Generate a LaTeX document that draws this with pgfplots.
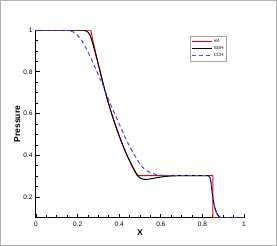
\documentclass[border=0pt]{standalone}
\usepackage{pgfplots}
\pgfplotsset{compat=1.18}
\usepackage{fontspec}
\setmainfont{Liberation Sans}
\definecolor{cchblue}{RGB}{70,70,255}
\begin{document}
\begin{tikzpicture}
\draw[gray!60, line width=1pt] (-35.5pt,-27.5pt) rectangle (240.5pt,217.5pt);
\begin{axis}[
  at={(0pt,0pt)}, anchor=origin,
  scale only axis, width=208pt, height=188pt,
  xmin=0, xmax=1, ymin=0.1, ymax=1,
  axis lines=left, axis line style={-, line width=1pt},
  tick align=inside,
  xtick={0,0.2,0.4,0.6,0.8,1}, ytick={0.2,0.4,0.6,0.8,1},
  minor x tick num=3, minor y tick num=3,
  major tick length=4pt, minor tick length=2.5pt,
  every tick/.style={black, line width=0.6pt},
  tick label style={font=\fontsize{6.5}{7}\selectfont},
  /pgf/number format/assume math mode=true,
  xlabel={\textbf{X}}, ylabel={\textbf{Pressure}},
  label style={font=\fontsize{8.5}{9}\selectfont},
  xlabel style={at={(axis description cs:0.5,-0.08)}, anchor=center},
  ylabel style={at={(axis description cs:-0.09,0.5)}, anchor=center},
  legend style={at={(axis description cs:0.74,0.97)}, anchor=north west,
    draw=gray!70, line width=0.4pt, font=\fontsize{4.5}{5}\selectfont,
    inner sep=1pt, row sep=-1.5pt, legend cell align=left},
  legend image post style={line width=0.8pt},
  legend image code/.code={\draw[#1] (0pt,0pt) -- (20pt,0pt);},
]
\addplot[red, line width=1pt] coordinates {
(0,1) (0.263,1) (0.28,0.921) (0.30,0.833) (0.32,0.752) (0.34,0.678)
(0.36,0.610) (0.38,0.549) (0.40,0.493) (0.42,0.441) (0.44,0.395)
(0.46,0.352) (0.48,0.314) (0.486,0.303) (0.85,0.303) (0.85,0.1) (1,0.1)};
\addlegendentry{ref.}
\addplot[black, line width=1pt] coordinates {
(0,1) (0.22,1) (0.235,0.998) (0.25,0.99) (0.26,0.975) (0.27,0.945)
(0.28,0.91) (0.30,0.835) (0.32,0.754) (0.34,0.679) (0.36,0.611)
(0.38,0.549) (0.40,0.493) (0.42,0.441) (0.44,0.395) (0.46,0.354)
(0.47,0.335) (0.48,0.317) (0.49,0.302) (0.50,0.292) (0.51,0.287)
(0.52,0.285) (0.535,0.285) (0.55,0.287) (0.58,0.293) (0.62,0.299)
(0.66,0.302) (0.70,0.303) (0.825,0.303) (0.832,0.300) (0.838,0.29)
(0.843,0.26) (0.848,0.215) (0.853,0.18) (0.86,0.148) (0.868,0.125)
(0.877,0.11) (0.887,0.102) (0.90,0.1) (1,0.1)};
\addlegendentry{SGH}
\addplot[cchblue, line width=1pt, dash pattern=on 4pt off 3pt] coordinates {
(0,1) (0.14,1) (0.16,0.997) (0.18,0.99) (0.20,0.975) (0.22,0.95)
(0.24,0.915) (0.26,0.875) (0.28,0.83) (0.30,0.785) (0.32,0.74)
(0.34,0.69) (0.36,0.64) (0.38,0.595) (0.40,0.55) (0.42,0.505)
(0.44,0.462) (0.46,0.425) (0.48,0.39) (0.50,0.358) (0.52,0.335)
(0.54,0.322) (0.56,0.313) (0.58,0.308) (0.60,0.305) (0.64,0.303)
(0.825,0.303) (0.832,0.300) (0.838,0.29) (0.843,0.26) (0.848,0.215)
(0.853,0.18) (0.86,0.148) (0.868,0.125) (0.877,0.11) (0.887,0.102)
(0.90,0.1) (1,0.1)};
\addlegendentry{CCH}
\end{axis}
\end{tikzpicture}
\end{document}
